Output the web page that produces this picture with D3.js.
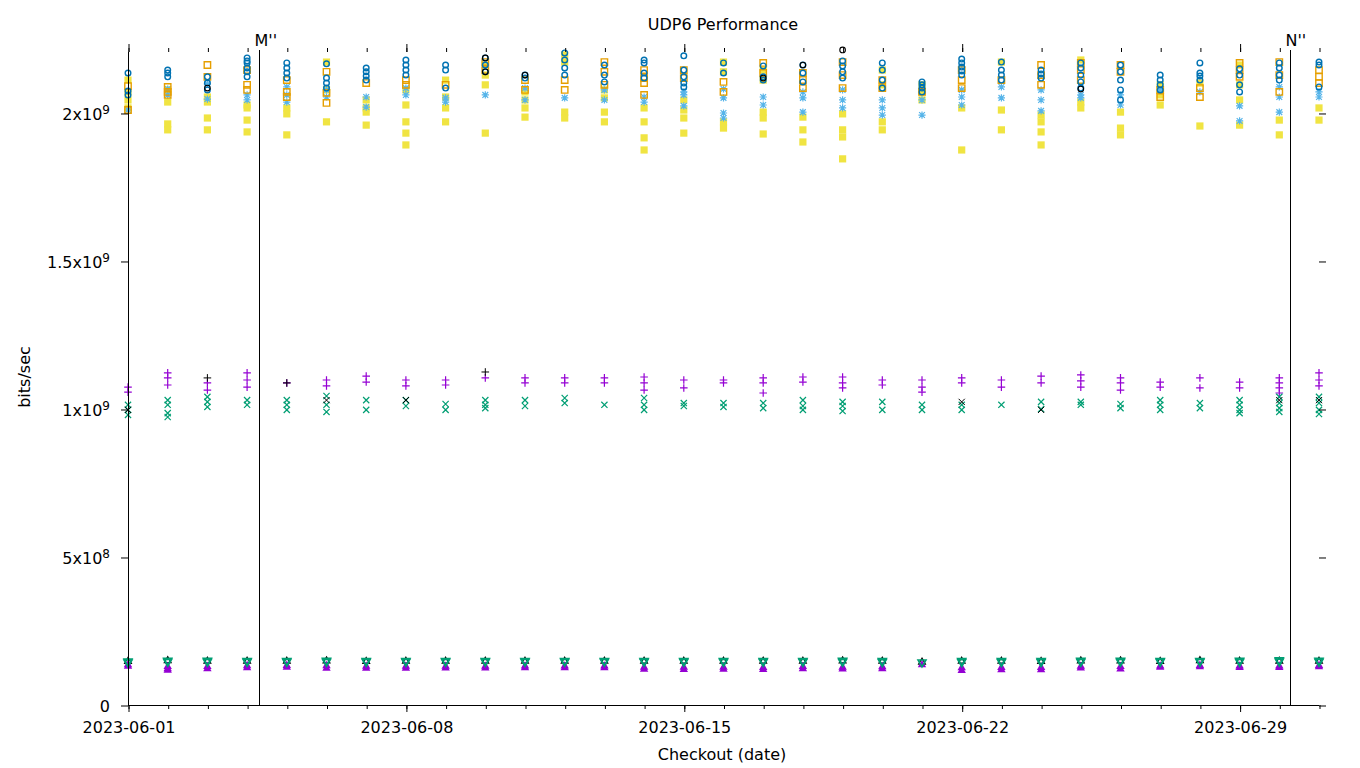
<!DOCTYPE html>
<html><head><meta charset="utf-8">
<script src="https://cdn.jsdelivr.net/npm/d3@7"></script>
<style>body{margin:0;background:#fff;} svg{display:block;font-family:"DejaVu Sans",sans-serif;}</style>
</head><body><svg id="chart" width="1360" height="768"></svg>
<script>
// ---------------- data (values in Gbit/s, i.e. x 1e9 bits/sec) ----------------
const GBIT = 1e9;
const days = ["2023-06-01","2023-06-02","2023-06-03","2023-06-04","2023-06-05","2023-06-06","2023-06-07",
  "2023-06-08","2023-06-09","2023-06-10","2023-06-11","2023-06-12","2023-06-13","2023-06-14",
  "2023-06-15","2023-06-16","2023-06-17","2023-06-18","2023-06-19","2023-06-20","2023-06-21",
  "2023-06-22","2023-06-23","2023-06-24","2023-06-25","2023-06-26","2023-06-27","2023-06-28",
  "2023-06-29","2023-06-30","2023-07-01"];
const xDomain = ["2023-06-01","2023-07-01"];
const yMax = 2.206e9;
const xTickLabels = ["2023-06-01","2023-06-08","2023-06-15","2023-06-22","2023-06-29"];
const yTickValues = [0, 5e8, 1e9, 1.5e9, 2e9];
const yTickLabels = [["0",""],["5x10","8"],["1x10","9"],["1.5x10","9"],["2x10","9"]];
const markerLabels = ["M''","N''"];
const markerDates = ["2023-06-04T07:10","2023-06-30T06:13"];
const title = "UDP6 Performance";
const xTitle = "Checkout (date)";
const yTitle = "bits/sec";

const yellowSquares = [
 [2.111,2.071,2.044,2.017],[2.078,2.037,1.963,1.943],[2.054,2.037,1.983,1.943],[2.027,2.017,1.976,1.936],
 [2.017,1.997,1.926],[2.172,2.078,1.970],[2.044,2.017,2.003,1.959],[2.078,2.027,1.970,1.932,1.892],
 [2.111,2.054,2.017,1.970],[2.162,2.128,2.095,1.932],[2.071,2.044,2.017,1.986],[2.196,2.172,2.003,1.983],
 [2.078,2.051,2.003,1.970],[2.017,1.970,1.916,1.875],[2.044,2.010,1.983,1.932],[2.172,2.139,1.970,1.949],
 [2.145,2.111,2.003,1.983,1.929],[1.986,1.943,1.902],[1.997,1.943,1.919,1.845],[2.145,2.095,1.970,1.943],
 [2.095,2.071,2.044],[2.017,1.875],[2.172,2.010,1.943],[1.993,1.970,1.936,1.892],
 [2.179,2.037,2.017],[2.003,1.949,1.926],[2.095,2.061,2.027],[2.101,1.956],
 [2.162,2.095,2.044,1.959],[1.976,1.926],[2.017,1.976]];
const lightBlueStars = [
 [2.010],[2.081,2.061],[2.098,2.047],[2.061,2.044],[2.088,2.061,2.037],[2.078,2.054],[2.054,2.020],
 [2.084,2.061],[2.051,2.037],[2.061],[2.084,2.044],[2.051],[2.078,2.044],[2.054,2.037],
 [2.071,2.061,2.024],[2.081,2.051,2.000,1.983],[2.054,2.027],[2.071,2.051,2.003],[2.078,2.044,2.017],
 [2.044,2.017,1.993],[2.044,1.993],[2.078,2.054,2.027],[2.088,2.051],[2.078,2.044,2.007],
 [2.061,2.051],[2.061,2.027],[2.078],[2.071],[2.024,1.973],[2.088,2.054,2.003],[2.071,2.054]];
const orangeSquares = [
 [2.091,2.010],[2.088,2.071,2.061],[2.162,2.122],[2.145,2.095,2.078],[2.111,2.071,2.054],
 [2.139,2.068,2.034],[2.101],[2.111,2.095],[2.095],[2.172,2.145],[2.111,2.078],[2.111,2.078],
 [2.172,2.139,2.095],[2.145,2.118,2.101,2.061],[2.145,2.118],[2.105,2.071],[2.169,2.135],
 [2.135,2.111,2.084],[2.172,2.128,2.084],[2.111,2.084],[2.071],[2.145,2.111,2.084],[2.111],
 [2.162,2.128,2.095],[2.169,2.145,2.111],[2.162,2.139],[2.078,2.054],[2.084,2.054],
 [2.169,2.145,2.122],[2.172,2.128,2.071],[2.145,2.122,2.101]];
const blueCircles = [
 [2.135,2.074,2.061],[2.145,2.135,2.122],[2.122,2.101,2.078],[2.186,2.176,2.169,2.152,2.139,2.122],
 [2.169,2.152,2.135,2.118],[2.166,2.118,2.101,2.084],[2.152,2.139,2.125,2.111],[2.179,2.162,2.145,2.128],
 [2.162,2.145,2.084],[2.186,2.162,2.139],[2.128,2.118],[2.203,2.179,2.152,2.128],[2.162,2.128,2.105],
 [2.179,2.169,2.135,2.118],[2.193,2.145,2.122,2.101,2.088],[2.169,2.135],[2.159,2.122,2.111],
 [2.162,2.135,2.105],[2.176,2.159,2.139,2.118],[2.169,2.145,2.111,2.084],[2.105,2.095,2.084,2.071],
 [2.182,2.169,2.155,2.142,2.128],[2.172,2.145,2.128,2.111],[2.145,2.132,2.118],
 [2.169,2.152,2.128,2.105,2.084],[2.162,2.139,2.111,2.078,2.044],[2.128,2.111,2.095,2.078],
 [2.169,2.135,2.125,2.111],[2.149,2.128,2.095,2.071],[2.169,2.152,2.128,2.111],[2.172,2.162,2.088]];
const blackCircles = [
 [],[],[2.084],[],[],[],[],[],[],[2.186,2.139],[2.128],[],[],[],[],[],[2.118],[2.162],[2.213],[],
 [],[],[],[],[2.081],[],[],[],[],[],[]];
const purplePlus = [
 [1.074,1.057],[1.122,1.105,1.081],[1.088,1.064],[1.122,1.098,1.074],[1.088],[1.098,1.078],[1.111,1.091],
 [1.098,1.078],[1.098,1.081],[1.105],[1.105,1.088],[1.105,1.088],[1.105,1.088],[1.108,1.088,1.064],
 [1.098,1.071],[1.098,1.088],[1.105,1.088,1.054],[1.108,1.091],[1.108,1.088,1.071],[1.098,1.081],
 [1.098,1.074,1.057],[1.105,1.088],[1.098,1.074],[1.111,1.088],[1.115,1.095,1.074],[1.105,1.088,1.064],
 [1.091,1.074],[1.105,1.071],[1.091,1.071],[1.105,1.088,1.071,1.054],[1.122,1.098,1.078]];
const greenCross = [
 [1.014,0.997,0.980],[1.030,1.014,0.986,0.973],[1.041,1.024,1.007],[1.030,1.014],[1.030,1.014,0.997],
 [1.044,1.014,0.990],[1.030,0.997],[1.030,1.010],[1.017,0.997],[1.030,1.014,1.003],[1.030,1.010],
 [1.037,1.020],[1.014],[1.037,1.014,0.997],[1.020,1.010],[1.020,1.007],[1.020,1.003],[1.030,1.010,0.997],
 [1.024,1.010,0.993],[1.024,0.997],[1.014,0.997],[1.014,0.997],[1.014],[1.024,1.000],[1.024,1.014],
 [1.017,1.003],[1.030,1.014,0.997],[1.020,1.003],[1.030,1.014,0.997,0.986],[1.041,1.020,1.003,0.990],
 [1.041,1.020,0.997,0.983]];
const blackPlus = [
 [],[],[1.105],[],[1.088],[],[],[],[],[1.125],[],[],[],[],[],[],[],[],[],[],[],[],[],[],[],[],[],[],[],[],[]];
const blackCross = [
 [0.997],[],[],[],[],[1.030],[],[1.030],[],[],[],[],[],[],[],[],[],[],[],[],[],[1.024],[],[0.997],[],[],[],[],[],[1.030],[1.030]];
const blackTriangles = [
 [0.149],[0.152],[0.150],[0.150],[0.150],[0.151],[0.149],[0.150],[0.150],[0.150],[0.150],[0.150],
 [0.150],[0.150],[0.150],[0.150],[0.150],[0.150],[0.151],[0.150],[0.147],[0.150],[0.150],[0.149],
 [0.151],[0.151],[0.149],[0.152],[0.150],[0.150],[0.150]];
const purpleTriangles = [
 [0.138,0.133],[0.132,0.125,0.120],[0.132,0.125],[0.135,0.128],[0.136,0.130],[0.135,0.126],[0.133,0.126],
 [0.133,0.126],[0.133,0.127],[0.133,0.127],[0.134,0.128],[0.134,0.128],[0.134,0.128],[0.130,0.123],
 [0.130,0.122],[0.130,0.123],[0.129,0.122],[0.132,0.125],[0.130,0.124],[0.131,0.125],[0.138],
 [0.128,0.119],[0.129,0.121],[0.129,0.121],[0.133,0.127],[0.132,0.124],[0.134,0.130],[0.136,0.131],
 [0.134,0.129],[0.134,0.129],[0.136,0.131]];
const greenInvTriangles = [
 [0.145,0.142],[0.148,0.144],[0.148,0.144],[0.147,0.144],[0.147,0.144],[0.148,0.144],[0.147,0.144],
 [0.147,0.144],[0.147,0.144],[0.147,0.144],[0.147,0.144],[0.147,0.144],[0.147,0.144],[0.147,0.144],
 [0.147,0.144],[0.147,0.144],[0.147,0.144],[0.147,0.144],[0.148,0.144],[0.147,0.143],[0.142],
 [0.147,0.143],[0.147,0.143],[0.147,0.143],[0.148,0.144],[0.148,0.144],[0.147,0.144],[0.147,0.144],
 [0.148,0.144],[0.149,0.145],[0.148,0.144]];

// ---------------- layout ----------------
const plot = {left:128, right:1319, top:52, bottom:705};
const svg = d3.select("#chart");
const parseDay = d3.utcParse("%Y-%m-%d");
const parseDT = d3.utcParse("%Y-%m-%dT%H:%M");
const x = d3.scaleUtc().domain(xDomain.map(parseDay)).range([plot.left, plot.right]);
const y = d3.scaleLinear().domain([0, yMax]).range([plot.bottom, plot.top]);

function shapePath(kind, h){
  switch(kind){
    case "plus": return `M${-h},0H${h}M0,${-h}V${h}`;
    case "cross": return `M${-h},${-h}L${h},${h}M${-h},${h}L${h},${-h}`;
    case "star": return `M${-h},0H${h}M0,${-h}V${h}M${-h*0.8},${-h*0.8}L${h*0.8},${h*0.8}M${-h*0.8},${h*0.8}L${h*0.8},${-h*0.8}`;
    case "square": return `M${-h},${-h}H${h}V${h}H${-h}Z`;
    case "tri": return `M0,${-h}L${h},${h*0.75}L${-h},${h*0.75}Z`;
    case "invtri": return `M0,${h}L${h},${-h*0.75}L${-h},${-h*0.75}Z`;
  }
}
const series = [
  {data: yellowSquares, color:"#f0e442", kind:"square", h:3.6, fill:true},
  {data: lightBlueStars, color:"#56b4e9", kind:"star", h:3.6, fill:false, sw:1.2},
  {data: orangeSquares, color:"#e69f00", kind:"square", h:3.2, fill:false, sw:1.4},
  {data: blueCircles, color:"#0072b2", kind:"circle", h:2.8, fill:false, sw:1.4},
  {data: blackCircles, color:"#000000", kind:"circle", h:2.8, fill:false, sw:1.1},
  {data: purplePlus, color:"#9400d3", kind:"plus", h:3.8, fill:false, sw:1.2},
  {data: greenCross, color:"#009e73", kind:"cross", h:3.1, fill:false, sw:1.2},
  {data: blackPlus, color:"#000000", kind:"plus", h:3.8, fill:false, sw:1.0},
  {data: blackCross, color:"#000000", kind:"cross", h:3.1, fill:false, sw:1.0},
  {data: blackTriangles, color:"#000000", kind:"tri", h:3.4, fill:false, sw:1.2},
  {data: purpleTriangles, color:"#9400d3", kind:"tri", h:4.2, fill:true},
  {data: greenInvTriangles, color:"#009e73", kind:"invtri", h:4.0, fill:false, sw:1.6},
];

// marker vertical lines
const mg = svg.append("g");
markerDates.forEach((d,i)=>{
  const px = Math.round(x(parseDT(d)))+0.5;
  mg.append("line").attr("x1",px).attr("x2",px).attr("y1",plot.top-2).attr("y2",plot.bottom)
    .attr("stroke","#000").attr("stroke-width",1);
  mg.append("text").attr("x",px-5).attr("y",46).attr("font-size",16).text(markerLabels[i]);
});

// points
const pg = svg.append("g");
series.forEach(s=>{
  const pts = [];
  s.data.forEach((vals,i)=>vals.forEach(v=>pts.push({t:parseDay(days[i]), v:v*GBIT})));
  const g = pg.append("g");
  if(s.kind==="circle"){
    g.selectAll("circle").data(pts).join("circle")
      .attr("cx",d=>x(d.t)).attr("cy",d=>y(d.v)).attr("r",s.h)
      .attr("fill","none").attr("stroke",s.color).attr("stroke-width",s.sw);
  } else {
    g.selectAll("path").data(pts).join("path")
      .attr("transform",d=>`translate(${x(d.t)},${y(d.v)})`)
      .attr("d",shapePath(s.kind,s.h))
      .attr("fill",s.fill?s.color:"none")
      .attr("stroke",s.fill?"none":s.color)
      .attr("stroke-width",s.sw||0);
  }
});

// axes
const ag = svg.append("g").attr("font-size",16);
const majorX = xTickLabels.map(parseDay);
const minorX = days.map(parseDay);
ag.append("line").attr("x1",plot.left).attr("x2",plot.right).attr("y1",plot.bottom+0.5).attr("y2",plot.bottom+0.5).attr("stroke","#000");
ag.append("line").attr("x1",plot.left+0.5).attr("x2",plot.left+0.5).attr("y1",plot.top).attr("y2",plot.bottom).attr("stroke","#000");

const bottomAxis = d3.axisBottom(x).tickValues(majorX).tickSize(7).tickPadding(10).tickFormat(d3.utcFormat("%Y-%m-%d"));
const bx = ag.append("g").attr("transform",`translate(0.5,${plot.bottom})`).call(bottomAxis);
bx.select(".domain").remove();
bx.selectAll("text").attr("font-size",16).attr("font-family","DejaVu Sans").attr("fill","#000");
const bminor = d3.axisBottom(x).tickValues(minorX).tickSize(4).tickFormat("");
ag.append("g").attr("transform",`translate(0.5,${plot.bottom})`).call(bminor).select(".domain").remove();
const topMajor = d3.axisTop(x).tickValues(majorX).tickSize(8).tickFormat("");
ag.append("g").attr("transform",`translate(0.5,${plot.top})`).call(topMajor).select(".domain").remove();
const topMinor = d3.axisTop(x).tickValues(minorX).tickSize(4).tickFormat("");
ag.append("g").attr("transform",`translate(0.5,${plot.top})`).call(topMinor).select(".domain").remove();

const leftAxis = d3.axisLeft(y).tickValues(yTickValues).tickSize(7).tickFormat("");
const lx = ag.append("g").attr("transform",`translate(${plot.left},0.5)`).call(leftAxis);
lx.select(".domain").remove();
lx.selectAll(".tick").each(function(d,i){
  const t = d3.select(this).append("text").attr("x",-18).attr("dy","0.36em")
    .attr("text-anchor","end").attr("font-size",16).attr("fill","#000").attr("font-family","DejaVu Sans");
  t.append("tspan").text(yTickLabels[i][0]);
  if(yTickLabels[i][1]) t.append("tspan").attr("dy","-0.5em").attr("font-size",12).text(yTickLabels[i][1]);
});
const rightAxis = d3.axisRight(y).tickValues(yTickValues).tickSize(7).tickFormat("");
ag.append("g").attr("transform",`translate(${plot.right},0.5)`).call(rightAxis).select(".domain").remove();

svg.append("text").attr("x",723).attr("y",30).attr("text-anchor","middle").attr("font-size",16).text(title);
svg.append("text").attr("x",722).attr("y",760).attr("text-anchor","middle").attr("font-size",16).text(xTitle);
svg.append("text").attr("transform","translate(30,377) rotate(-90)").attr("text-anchor","middle").attr("font-size",16).text(yTitle);
</script></body></html>
